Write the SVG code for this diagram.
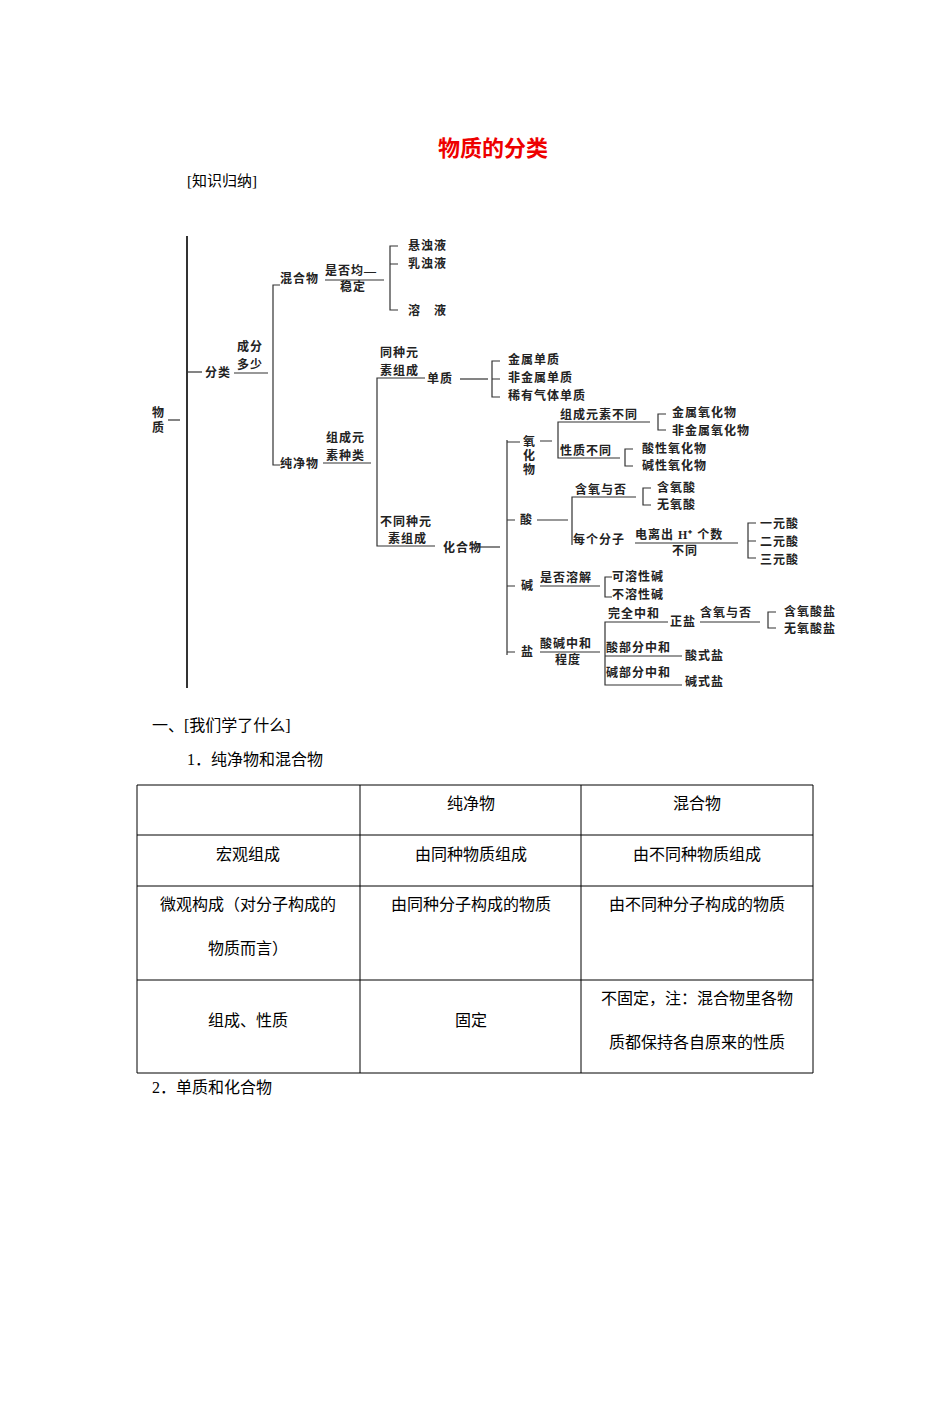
<svg xmlns="http://www.w3.org/2000/svg" width="950" height="1411" viewBox="0 0 950 1411">
<style>
text{font-family:"Liberation Serif","Noto Sans CJK SC",serif;fill:#000}
.d{font-size:12px;fill:#222;font-weight:bold;letter-spacing:1px}
.b{font-size:16px}
.t{font-size:16px;text-anchor:middle}
line,path{stroke:#333;fill:none;stroke-width:1.2}
.tb line{stroke:#000;stroke-width:1}
</style>
<rect width="950" height="1411" fill="#fff"/>
<text x="493" y="156" style="font-size:22px;fill:#e00;font-weight:bold;text-anchor:middle">物质的分类</text>
<text x="187" y="186" style="font-size:15px">[知识归纳]</text>
<g id="connectors">
<line x1="187" y1="236" x2="187" y2="688" style="stroke-width:2"/>
<line x1="168" y1="420" x2="180" y2="420"/>
<line x1="187" y1="372" x2="202" y2="372"/>
<line x1="234" y1="373" x2="268" y2="373"/>
<path d="M280 285H273V465H280"/>
<line x1="325" y1="280" x2="384" y2="280"/>
<path d="M398 246H390V310H398M390 264H398"/>
<line x1="323" y1="463" x2="371" y2="463"/>
<path d="M425 378H377V546H435"/>
<line x1="460" y1="379" x2="488" y2="379"/>
<path d="M500 361H492V397H500M492 379H500"/>
<line x1="474" y1="547" x2="500" y2="547"/>
<path d="M507 440V655M507 442H520M540 441H552M507 520H515M537 520H568M507 586H515M507 652H515"/>
<path d="M650 422H558V458H620"/>
<path d="M666 414H658V430H666"/>
<path d="M633 449H625V466H633"/>
<path d="M636 497H572V545"/>
<path d="M651 488H643V505H651"/>
<line x1="635" y1="543" x2="738" y2="543"/>
<path d="M756 523H748V558H756M748 541H756"/>
<line x1="540" y1="586" x2="600" y2="586"/>
<path d="M612 577H605V597H612"/>
<line x1="540" y1="652" x2="600" y2="652"/>
<path d="M668 622H605V685H682M605 656H682"/>
<line x1="700" y1="622" x2="760" y2="622"/>
<path d="M776 612H768V628H776"/>
</g>
<g id="n-wuzhi"><text class="d" x="152" y="417">物</text><text class="d" x="152" y="432">质</text></g>
<g id="n-fenlei"><text class="d" x="205" y="377">分类</text><text class="d" x="237" y="351">成分</text><text class="d" x="237" y="369">多少</text></g>
<g id="n-hunhewu"><text class="d" x="280" y="283">混合物</text><text class="d" x="325" y="275">是否均—</text><text class="d" x="340" y="291">稳定</text></g>
<g id="n-mix"><text class="d" x="408" y="250">悬浊液</text><text class="d" x="408" y="268">乳浊液</text><text class="d" x="408" y="315">溶　液</text></g>
<g id="n-chunjingwu"><text class="d" x="280" y="468">纯净物</text><text class="d" x="326" y="442">组成元</text><text class="d" x="326" y="460">素种类</text></g>
<g id="n-danzhi"><text class="d" x="380" y="357">同种元</text><text class="d" x="380" y="375">素组成</text><text class="d" x="427" y="383">单质</text>
<text class="d" x="508" y="364">金属单质</text><text class="d" x="508" y="382">非金属单质</text><text class="d" x="508" y="400">稀有气体单质</text></g>
<g id="n-huahewu"><text class="d" x="380" y="526">不同种元</text><text class="d" x="388" y="543">素组成</text><text class="d" x="443" y="552">化合物</text></g>
<g id="n-oxide"><text class="d" x="523" y="446">氧</text><text class="d" x="523" y="460">化</text><text class="d" x="523" y="474">物</text>
<text class="d" x="560" y="419">组成元素不同</text><text class="d" x="672" y="417">金属氧化物</text><text class="d" x="672" y="435">非金属氧化物</text>
<text class="d" x="560" y="455">性质不同</text><text class="d" x="642" y="453">酸性氧化物</text><text class="d" x="642" y="470">碱性氧化物</text></g>
<g id="n-acid"><text class="d" x="520" y="524">酸</text><text class="d" x="575" y="494">含氧与否</text><text class="d" x="657" y="492">含氧酸</text><text class="d" x="657" y="509">无氧酸</text>
<text class="d" x="573" y="544">每个分子</text><text class="d" x="635" y="539">电离出 H⁺ 个数</text><text class="d" x="672" y="555">不同</text>
<text class="d" x="760" y="528">一元酸</text><text class="d" x="760" y="546">二元酸</text><text class="d" x="760" y="564">三元酸</text></g>
<g id="n-base"><text class="d" x="521" y="590">碱</text><text class="d" x="540" y="582">是否溶解</text><text class="d" x="612" y="581">可溶性碱</text><text class="d" x="612" y="599">不溶性碱</text></g>
<g id="n-salt"><text class="d" x="521" y="656">盐</text><text class="d" x="540" y="648">酸碱中和</text><text class="d" x="555" y="664">程度</text>
<text class="d" x="608" y="618">完全中和</text><text class="d" x="670" y="626">正盐</text><text class="d" x="700" y="617">含氧与否</text><text class="d" x="784" y="616">含氧酸盐</text><text class="d" x="784" y="633">无氧酸盐</text>
<text class="d" x="606" y="652">酸部分中和</text><text class="d" x="685" y="660">酸式盐</text><text class="d" x="606" y="677">碱部分中和</text><text class="d" x="685" y="686">碱式盐</text></g>
<text class="b" x="152" y="731">一、[我们学了什么]</text>
<text class="b" x="187" y="765">1．纯净物和混合物</text>
<g class="tb" id="table">
<line x1="137" y1="785" x2="813" y2="785"/><line x1="137" y1="835" x2="813" y2="835"/><line x1="137" y1="886" x2="813" y2="886"/><line x1="137" y1="980" x2="813" y2="980"/><line x1="137" y1="1073" x2="813" y2="1073"/>
<line x1="137" y1="785" x2="137" y2="1073"/><line x1="360" y1="785" x2="360" y2="1073"/><line x1="581" y1="785" x2="581" y2="1073"/><line x1="813" y1="785" x2="813" y2="1073"/>
</g>
<text class="t" x="471" y="809">纯净物</text><text class="t" x="697" y="809">混合物</text>
<text class="t" x="248" y="860">宏观组成</text><text class="t" x="471" y="860">由同种物质组成</text><text class="t" x="697" y="860">由不同种物质组成</text>
<text class="t" x="248" y="910">微观构成（对分子构成的</text><text class="t" x="248" y="954">物质而言）</text><text class="t" x="471" y="910">由同种分子构成的物质</text><text class="t" x="697" y="910">由不同种分子构成的物质</text>
<text class="t" x="248" y="1026">组成、性质</text><text class="t" x="471" y="1026">固定</text><text class="t" x="697" y="1004">不固定，注：混合物里各物</text><text class="t" x="697" y="1048">质都保持各自原来的性质</text>
<text class="b" x="152" y="1093">2．单质和化合物</text>
</svg>
